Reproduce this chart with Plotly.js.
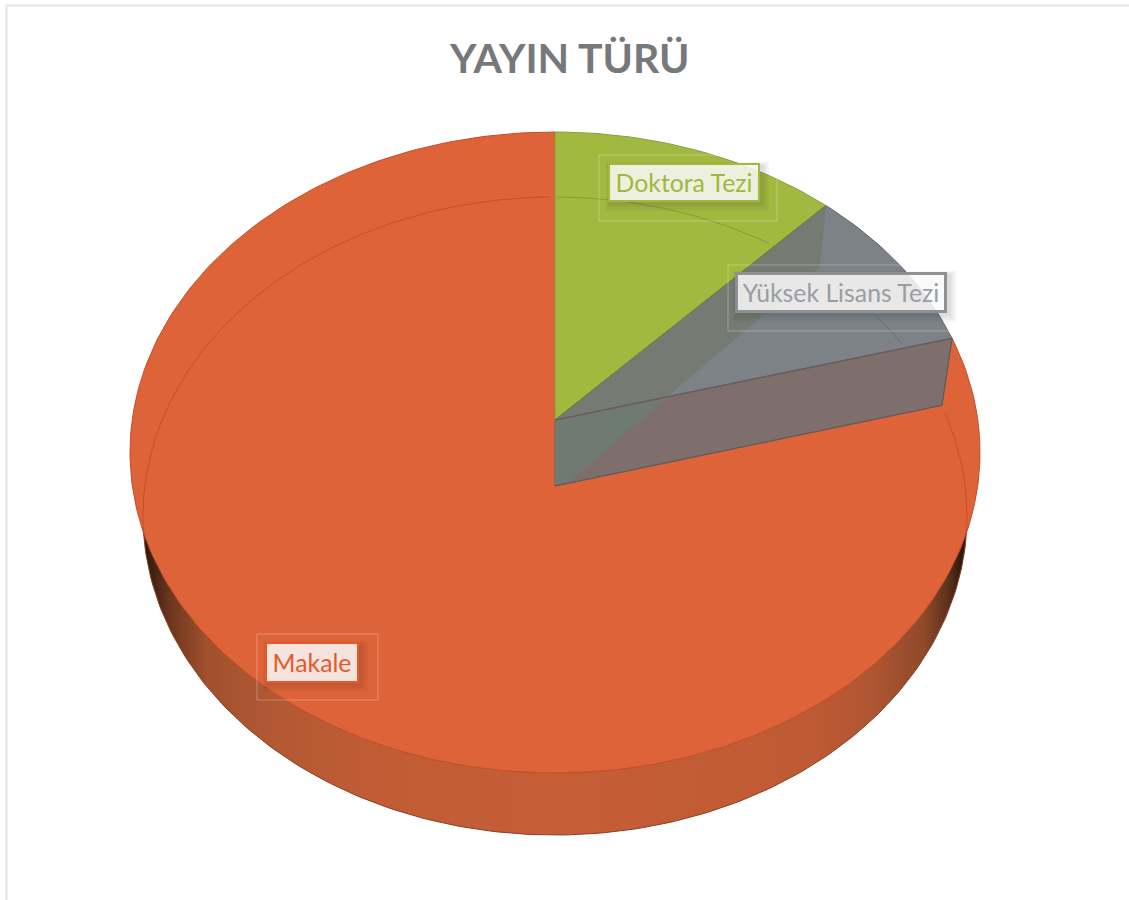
<!DOCTYPE html>
<html>
<head>
<meta charset="utf-8">
<script src="https://cdn.plot.ly/plotly-3.0.1.min.js"></script>
<style>html,body{margin:0;padding:0;background:#fff}#chart{width:1129px;height:900px}</style>
</head>
<body>
<div id="chart"></div>
<script>
var categories = ['Doktora Tezi', 'Yüksek Lisans Tezi', 'Makale'];
var shareValues = [11, 8.2, 80.8];
var sliceColors = ['#a2b93f', '#7c8287', '#df6338'];
var sliceEdges = ['#8a9d40', '#63686c', '#bd4f2b'];
var labelInk = ['#9fb83c', '#9a9da1', '#e4592c'];
var labelFrame = ['#a2b93f', '#8e9194', '#e8592a'];
var chartTitle = 'YAYIN TÜRÜ';

// Projection of the tilted disc onto the page axes
var topDisc = {cx: 555, cy: 452.5, rx: 425, ry: 320.5, ax: 555, ay: 420};
var lowDisc = {cx: 555, cy: 516, rx: 412, ry: 319, ax: 555, ay: 486};
var total = shareValues.reduce(function (a, b) { return a + b; }, 0);

function rim(d, frac) {
  var t = 2 * Math.PI * frac;
  return [d.cx + d.rx * Math.sin(t), d.cy - d.ry * Math.cos(t)];
}
function arc(d, from, to) {
  var n = Math.max(2, Math.ceil(Math.abs(to - from) * 360)), pts = [];
  for (var i = 0; i <= n; i++) pts.push(rim(d, from + (to - from) * i / n));
  return pts;
}
function poly(pts, name, fill, edge, w) {
  return {
    type: 'scatter', mode: 'lines', name: name,
    x: pts.map(function (p) { return p[0]; }),
    y: pts.map(function (p) { return p[1]; }),
    fill: 'toself', fillcolor: fill,
    line: {color: edge, width: w === undefined ? 1 : w},
    hoverinfo: 'skip', showlegend: false
  };
}
function wedge(d, from, to) {
  return [[d.ax, d.ay]].concat(arc(d, from, to)).concat([[d.ax, d.ay]]);
}

var f1 = shareValues[0] / total;
var f2 = (shareValues[0] + shareValues[1]) / total;
var traces = [];

// Rim wall: whole lower disc with a horizontal shading, top disc covers it
var wall = poly(arc(lowDisc, 0, 1), 'kenar', '#c65d35', '#8a3d20', 1);
wall.fillgradient = {
  type: 'horizontal', start: 140, stop: 970,
  colorscale: [
    [0, '#1e0f08'], [0.012, '#3a1f10'], [0.035, '#6a361d'], [0.08, '#a0502c'], [0.15, '#b05833'],
    [0.27, '#c05c35'], [0.5, '#c65e36'], [0.8, '#bf5b34'], [0.88, '#b05632'],
    [0.945, '#8f4a2a'], [0.975, '#5a2f1a'], [0.992, '#2a170c'], [1, '#160b05']
  ]
};
traces.push(wall);

// Top faces
traces.push(poly(wedge(topDisc, f2, 1), categories[2], sliceColors[2], sliceEdges[2]));
traces.push(poly(wedge(topDisc, 0, f1), categories[0], sliceColors[0], sliceEdges[0]));
traces.push(poly(wedge(topDisc, f1, f2), categories[1], sliceColors[1], sliceEdges[1]));

// Inner wall of the pulled-out slice seen through its top face
var a1 = rim(topDisc, f1), a2 = rim(topDisc, f2), r2 = rim(lowDisc, f2);
var b2 = [r2[0] + 2, r2[1] + 3];
traces.push(poly([[topDisc.ax, topDisc.ay], a1, [820, 267], [667, 397], [topDisc.ax, topDisc.ay]],
  'iç', '#757b72', '#757b72', 0));

// Front wall of that slice
traces.push(poly([[topDisc.ax, topDisc.ay], a2, b2, [lowDisc.ax, lowDisc.ay], [topDisc.ax, topDisc.ay]],
  'ön', '#7e6f6c', '#5f5f5f', 1));
traces.push(poly([[topDisc.ax, topDisc.ay + 1], [667, 398], [570, 481], [lowDisc.ax, lowDisc.ay - 1], [topDisc.ax, topDisc.ay + 1]],
  'ön sol', '#6f7a73', '#6f7a73', 0));

// Edge lines over the face shading
function edge(pts, color, w) {
  return {
    type: 'scatter', mode: 'lines', x: pts.map(function (p) { return p ? p[0] : null; }),
    y: pts.map(function (p) { return p ? p[1] : null; }),
    line: {color: color, width: w}, hoverinfo: 'skip', showlegend: false
  };
}
traces.push(edge([[topDisc.ax, topDisc.ay], a1], '#6d8140', 1));
traces.push(edge([[topDisc.ax, topDisc.ay], a2], '#6a5a5c', 1.2));
traces.push(edge([[lowDisc.ax, lowDisc.ay], b2, a2], '#5c5c5e', 1));

// Back of the lower disc showing through the translucent top
var backOrange = [], backGreen = [], backGray = [];
arc(lowDisc, 0.74, 1.27).forEach(function (p) {
  var x = p[0], y = p[1];
  backOrange.push(x < 555 || (x > 943 && y > 405) ? p : null);
  backGreen.push(x >= 555 && x <= 773 ? p : null);
  backGray.push(x >= 873 && x <= 903 && y < 350 ? p : null);
});
traces.push(edge(backOrange, 'rgba(150,55,30,0.40)', 1));
traces.push(edge(backGreen, 'rgba(100,120,45,0.45)', 1));
traces.push(edge(backGray, 'rgba(85,90,95,0.55)', 1));

// Label furniture
var labelBoxes = [
  {cat: 0, x0: 608, x1: 760, y0: 163, y1: 202, ox0: 599, ox1: 777, oy0: 155, oy1: 221, bw: 2},
  {cat: 1, x0: 735, x1: 947, y0: 272, y1: 313, ox0: 728, ox1: 952, oy0: 265, oy1: 331, bw: 3},
  {cat: 2, x0: 265, x1: 359, y0: 642, y1: 683, ox0: 257, ox1: 378, oy0: 634, oy1: 700, bw: 2}
];
var shapes = [
  {type: 'line', xref: 'x', yref: 'y', x0: 6.5, x1: 6.5, y0: 5, y1: 900, line: {color: '#e4e4e4', width: 2}},
  {type: 'line', xref: 'x', yref: 'y', x0: 6, x1: 1129, y0: 5.5, y1: 5.5, line: {color: '#e4e4e4', width: 2}}
];
var annotations = [{
  xref: 'x', yref: 'y', x: 569, y: 57, text: '<b>' + chartTitle + '</b>', showarrow: false,
  font: {family: 'Lato, sans-serif', size: 41, color: '#76787b'}, xanchor: 'center', yanchor: 'middle'
}];
labelBoxes.forEach(function (b) {
  shapes.push({type: 'rect', xref: 'x', yref: 'y', x0: b.ox0, x1: b.ox1, y0: b.oy0, y1: b.oy1,
    line: {color: 'rgba(255,255,255,0.28)', width: 1}, fillcolor: 'rgba(0,0,0,0)'});
  [8, 6, 4, 2].forEach(function (s) {
    shapes.push({type: 'rect', xref: 'x', yref: 'y', x0: b.x0 + 2 - s / 2, x1: b.x1 + 1 + s,
      y0: b.y0 + 3 - s / 2, y1: b.y1 + 1 + s, line: {width: 0}, fillcolor: 'rgba(50,50,40,0.045)'});
  });
  annotations.push({
    xref: 'x', yref: 'y', x: (b.x0 + b.x1) / 2, y: (b.y0 + b.y1) / 2,
    text: categories[b.cat], showarrow: false, xanchor: 'center', yanchor: 'middle',
    width: b.x1 - b.x0 - 2 * b.bw, height: b.y1 - b.y0 - 2 * b.bw, borderpad: 0, borderwidth: b.bw,
    bordercolor: labelFrame[b.cat], bgcolor: 'rgba(255,255,255,0.84)',
    font: {family: 'Lato, sans-serif', size: 24.8, color: labelInk[b.cat]}
  });
});

Plotly.newPlot('chart', traces, {
  width: 1129, height: 900, margin: {l: 0, r: 0, t: 0, b: 0},
  paper_bgcolor: '#ffffff', plot_bgcolor: '#ffffff', showlegend: false,
  xaxis: {range: [0, 1129], visible: false, fixedrange: true},
  yaxis: {range: [900, 0], visible: false, fixedrange: true},
  shapes: shapes, annotations: annotations
}, {displayModeBar: false, staticPlot: true});
</script>
</body>
</html>
